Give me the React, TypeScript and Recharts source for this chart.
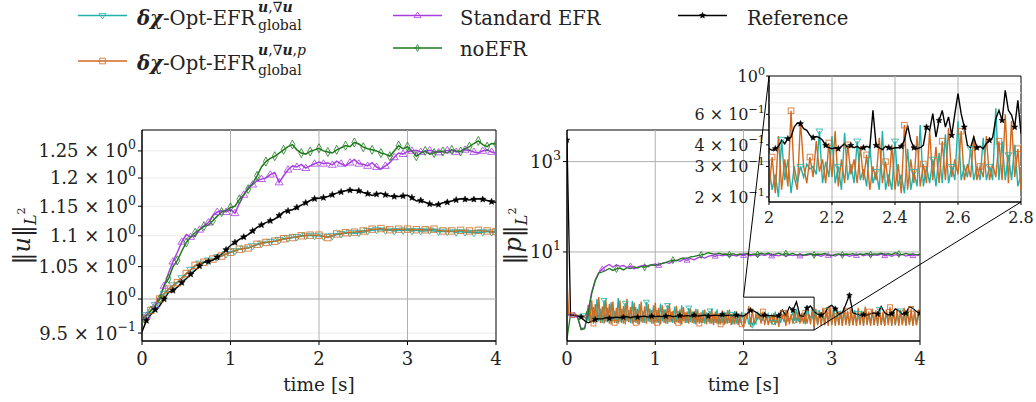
import { CartesianGrid, Line, LineChart, ReferenceArea, ReferenceLine, XAxis, YAxis } from 'recharts';

const FONT = '"DejaVu Serif", serif';

// colours per method
const C_CYAN = '#20b2aa';
const C_ORANGE = '#d2691e';
const C_PURPLE = '#a63ee0';
const C_GREEN = '#1d7a1d';
const C_REF = '#000000';

// ---------- left panel: ||u||_L2, sampled every 0.05 s ----------
const uCyan = [
  0.970, 0.976, 0.983, 0.991, 1.000, 1.008, 1.015, 1.021, 1.026, 1.032,
  1.039, 1.045, 1.051, 1.055, 1.057, 1.060, 1.062, 1.065, 1.067, 1.070,
  1.073, 1.075, 1.078, 1.079, 1.080, 1.083, 1.085, 1.087, 1.089, 1.090,
  1.091, 1.093, 1.094, 1.096, 1.097, 1.098, 1.099, 1.100, 1.101, 1.100,
  1.100, 1.099, 1.098, 1.100, 1.102, 1.103, 1.104, 1.105, 1.104, 1.105,
  1.106, 1.108, 1.109, 1.110, 1.110, 1.109, 1.109, 1.108, 1.109, 1.109,
  1.109, 1.108, 1.109, 1.108, 1.108, 1.109, 1.108, 1.107, 1.107, 1.107,
  1.107, 1.106, 1.107, 1.106, 1.106, 1.105, 1.106, 1.106, 1.107, 1.106,
  1.106,
];
const uOrange = [
  0.970, 0.976, 0.983, 0.991, 1.000, 1.008, 1.015, 1.020, 1.025, 1.032,
  1.039, 1.045, 1.052, 1.055, 1.057, 1.060, 1.062, 1.065, 1.067, 1.070,
  1.073, 1.076, 1.078, 1.079, 1.080, 1.083, 1.086, 1.088, 1.089, 1.090,
  1.091, 1.093, 1.095, 1.096, 1.097, 1.098, 1.100, 1.101, 1.101, 1.101,
  1.101, 1.099, 1.097, 1.100, 1.103, 1.104, 1.105, 1.106, 1.106, 1.107,
  1.108, 1.109, 1.111, 1.111, 1.112, 1.111, 1.110, 1.110, 1.111, 1.111,
  1.111, 1.110, 1.110, 1.110, 1.110, 1.111, 1.111, 1.109, 1.108, 1.108,
  1.108, 1.108, 1.109, 1.108, 1.108, 1.108, 1.109, 1.108, 1.108, 1.107,
  1.107,
];
const uPurple = [
  0.970, 0.975, 0.982, 0.990, 1.002, 1.020, 1.040, 1.058, 1.073, 1.090,
  1.102, 1.098, 1.100, 1.110, 1.116, 1.122, 1.134, 1.140, 1.142, 1.140,
  1.145, 1.138, 1.155, 1.170, 1.183, 1.188, 1.195, 1.198, 1.200, 1.206,
  1.210, 1.192, 1.204, 1.215, 1.222, 1.220, 1.225, 1.218, 1.222, 1.226,
  1.229, 1.226, 1.228, 1.224, 1.231, 1.226, 1.222, 1.228, 1.234, 1.226,
  1.225, 1.222, 1.228, 1.220, 1.216, 1.222, 1.228, 1.238, 1.246, 1.244,
  1.249, 1.250, 1.251, 1.248, 1.249, 1.251, 1.249, 1.247, 1.249, 1.251,
  1.251, 1.248, 1.249, 1.252, 1.251, 1.248, 1.246, 1.250, 1.252, 1.248,
  1.246,
];
const uGreen = [
  0.970, 0.976, 0.983, 0.990, 1.000, 1.021, 1.031, 1.050, 1.060, 1.075,
  1.089, 1.098, 1.105, 1.110, 1.116, 1.118, 1.125, 1.133, 1.140, 1.143,
  1.148, 1.150, 1.162, 1.170, 1.180, 1.190, 1.204, 1.220, 1.230, 1.236,
  1.240, 1.246, 1.252, 1.258, 1.262, 1.252, 1.246, 1.244, 1.249, 1.252,
  1.255, 1.250, 1.248, 1.246, 1.252, 1.256, 1.260, 1.258, 1.266, 1.263,
  1.257, 1.254, 1.252, 1.250, 1.246, 1.244, 1.240, 1.250, 1.260, 1.254,
  1.258, 1.250, 1.240, 1.246, 1.250, 1.244, 1.246, 1.250, 1.249, 1.246,
  1.252, 1.250, 1.249, 1.254, 1.258, 1.264, 1.269, 1.262, 1.258, 1.264,
  1.263,
];
const uRef = [
  0.952, 0.968, 0.977, 0.984, 0.990, 1.000, 1.010, 1.013, 1.018, 1.025,
  1.031, 1.038, 1.044, 1.051, 1.057, 1.058, 1.060, 1.065, 1.070, 1.077,
  1.084, 1.089, 1.094, 1.098, 1.102, 1.108, 1.114, 1.118, 1.122, 1.125,
  1.128, 1.134, 1.140, 1.142, 1.144, 1.148, 1.152, 1.156, 1.160, 1.163,
  1.164, 1.165, 1.167, 1.170, 1.173, 1.175, 1.177, 1.178, 1.178, 1.177,
  1.174, 1.172, 1.169, 1.171, 1.173, 1.170, 1.168, 1.167, 1.167, 1.168,
  1.169, 1.165, 1.159, 1.160, 1.157, 1.154, 1.152, 1.153, 1.156, 1.157,
  1.159, 1.161, 1.163, 1.162, 1.161, 1.162, 1.163, 1.162, 1.160, 1.158,
  1.157,
];

// ---------- right panel: ||p||_L2 ----------
// the two optimised runs, every 0.02 s
const pCyan = [
  0.42, 0.40, 0.41, 0.39, 0.40, 0.42, 0.38, 0.40, 0.37, 0.39,
  0.36, 0.45, 0.30, 0.72, 0.28, 0.60, 0.27, 0.92, 0.29, 0.55,
  0.27, 0.85, 0.28, 0.58, 0.26, 0.78, 0.29, 0.50, 0.27, 0.95,
  0.28, 0.55, 0.26, 0.74, 0.29, 0.52, 0.27, 0.82, 0.28, 0.60,
  0.26, 0.70, 0.28, 0.50, 0.27, 0.78, 0.29, 0.56, 0.26, 0.66,
  0.28, 0.52, 0.27, 0.72, 0.29, 0.54, 0.26, 0.66, 0.28, 0.48,
  0.27, 0.62, 0.28, 0.50, 0.26, 0.66, 0.29, 0.46, 0.27, 0.58,
  0.28, 0.48, 0.26, 0.55, 0.28, 0.44, 0.27, 0.52, 0.26, 0.46,
  0.28, 0.50, 0.26, 0.43, 0.27, 0.54, 0.25, 0.45, 0.27, 0.48,
  0.26, 0.52, 0.27, 0.42, 0.25, 0.49, 0.26, 0.44, 0.27, 0.47,
  0.30, 0.27, 0.43, 0.25, 0.33, 0.24, 0.30, 0.26, 0.48, 0.32,
  0.45, 0.30, 0.47, 0.31, 0.42, 0.29, 0.40, 0.28, 0.48, 0.27,
  0.42, 0.27, 0.38, 0.28, 0.52, 0.30, 0.33, 0.36, 0.46, 0.30,
  0.55, 0.30, 0.38, 0.30, 0.44, 0.25, 0.65, 0.42, 0.35, 0.40,
  0.27, 0.45, 0.25, 0.52, 0.26, 0.43, 0.24, 0.60, 0.26, 0.48,
  0.25, 0.55, 0.26, 0.44, 0.24, 0.50, 0.25, 0.58, 0.26, 0.42,
  0.25, 0.47, 0.24, 0.52, 0.26, 0.44, 0.25, 0.49, 0.24, 0.56,
  0.26, 0.43, 0.25, 0.50, 0.24, 0.46, 0.26, 0.54, 0.25, 0.42,
  0.24, 0.48, 0.26, 0.45, 0.25, 0.52, 0.24, 0.44, 0.26, 0.50,
  0.25, 0.46, 0.24, 0.53, 0.26, 0.43, 0.25, 0.48, 0.24, 0.45,
  0.26,
];
const pOrange = [
  2.5, 0.40, 0.41, 0.40, 0.39, 0.41, 0.39, 0.38, 0.40, 0.38,
  0.37, 0.32, 0.68, 0.27, 0.85, 0.26, 0.70, 0.28, 1.00, 0.27,
  0.62, 0.26, 0.90, 0.28, 0.70, 0.25, 0.80, 0.27, 0.58, 0.26,
  0.85, 0.27, 0.64, 0.25, 0.92, 0.28, 0.60, 0.26, 0.76, 0.27,
  0.55, 0.25, 0.80, 0.27, 0.62, 0.26, 0.70, 0.28, 0.52, 0.26,
  0.76, 0.27, 0.58, 0.25, 0.66, 0.27, 0.54, 0.26, 0.70, 0.28,
  0.50, 0.26, 0.64, 0.27, 0.54, 0.25, 0.60, 0.27, 0.48, 0.26,
  0.56, 0.27, 0.50, 0.25, 0.54, 0.26, 0.46, 0.27, 0.53, 0.25,
  0.45, 0.26, 0.56, 0.24, 0.48, 0.26, 0.43, 0.25, 0.51, 0.24,
  0.46, 0.26, 0.53, 0.24, 0.44, 0.25, 0.49, 0.24, 0.43, 0.25,
  0.22, 0.45, 0.33, 0.63, 0.22, 0.55, 0.24, 0.42, 0.33, 0.41,
  0.26, 0.48, 0.24, 0.40, 0.24, 0.39, 0.25, 0.44, 0.24, 0.40,
  0.22, 0.52, 0.33, 0.45, 0.23, 0.48, 0.25, 0.42, 0.26, 0.50,
  0.27, 0.48, 0.26, 0.45, 0.26, 0.45, 0.26, 0.42, 0.25, 0.60,
  0.22, 0.55, 0.24, 0.47, 0.23, 0.58, 0.24, 0.50, 0.23, 0.62,
  0.24, 0.52, 0.23, 0.56, 0.24, 0.48, 0.23, 0.60, 0.24, 0.50,
  0.23, 0.55, 0.24, 0.46, 0.23, 0.58, 0.24, 0.50, 0.23, 0.62,
  0.24, 0.48, 0.23, 0.55, 0.24, 0.51, 0.23, 0.57, 0.24, 0.47,
  0.23, 0.54, 0.24, 0.60, 0.23, 0.49, 0.24, 0.56, 0.23, 0.52,
  0.24, 0.58, 0.23, 0.50, 0.24, 0.55, 0.23, 0.48, 0.24, 0.53,
  0.25,
];
// standard EFR, noEFR and reference, every 0.04 s
const pPurple = [
  0.40, 0.42, 0.40, 0.36, 0.20, 0.21, 0.50, 1.3, 2.4, 3.5,
  4.2, 4.8, 5.3, 4.6, 5.2, 4.8, 5.0, 4.5, 4.9, 4.2,
  4.6, 4.9, 5.1, 4.7, 5.2, 5.4, 5.0, 5.6, 5.9, 5.6,
  6.2, 6.6, 6.2, 6.9, 6.5, 7.2, 6.7, 7.4, 7.9, 7.3,
  8.0, 8.4, 8.0, 8.6, 8.2, 8.6, 8.0, 8.5, 8.1, 8.7,
  8.3, 8.8, 8.2, 8.6, 8.0, 8.7, 8.3, 8.9, 8.1, 8.5,
  8.2, 8.8, 8.0, 8.6, 8.3, 8.7, 8.1, 8.6, 8.4, 8.9,
  8.2, 8.5, 8.0, 8.7, 8.3, 8.6, 8.1, 8.8, 8.2, 8.6,
  8.0, 8.5, 8.3, 8.9, 8.2, 8.7, 8.1, 8.6, 8.4, 9.0,
  8.2, 8.6, 8.0, 8.7, 8.3, 8.8, 8.1, 8.5, 8.2, 8.7,
  8.2,
];
const pGreen = [
  0.12, 0.42, 0.41, 0.36, 0.19, 0.20, 0.45, 1.2, 2.3, 3.4,
  3.6, 3.9, 4.3, 3.9, 4.2, 4.4, 4.0, 4.5, 4.3, 4.7,
  4.4, 4.8, 4.6, 5.0, 5.2, 5.0, 5.4, 5.6, 5.9, 6.3,
  6.6, 6.4, 7.0, 7.4, 7.2, 7.8, 8.0, 8.3, 8.6, 9.0,
  9.6, 9.2, 8.8, 9.4, 8.9, 9.0, 8.7, 9.2, 8.6, 9.0,
  8.8, 9.3, 8.7, 9.1, 8.8, 9.4, 8.9, 9.5, 8.6, 9.0,
  9.4, 8.7, 9.2, 8.8, 9.3, 8.5, 9.0, 8.4, 8.9, 9.2,
  8.6, 9.0, 8.8, 9.3, 8.7, 8.2, 8.8, 9.1, 8.6, 9.0,
  8.8, 9.2, 8.6, 9.0, 8.8, 9.3, 8.7, 9.1, 8.9, 9.4,
  8.8, 9.2, 8.7, 9.6, 9.0, 8.7, 9.3, 8.8, 9.1, 8.6,
  8.9,
];
const pRef = [
  3000, 0.40, 0.39, 0.38, 0.36, 0.30, 0.27, 0.29, 0.32, 0.33,
  0.33, 0.35, 0.34, 0.35, 0.36, 0.35, 0.36, 0.37, 0.35, 0.37,
  0.36, 0.37, 0.38, 0.36, 0.38, 0.37, 0.38, 0.37, 0.38, 0.39,
  0.37, 0.38, 0.39, 0.38, 0.39, 0.38, 0.40, 0.38, 0.39, 0.40,
  0.38, 0.39, 0.40, 0.39, 0.41, 0.39, 0.40, 0.39, 0.40, 0.39,
  0.38, 0.43, 0.51, 0.49, 0.44, 0.38, 0.40, 0.39, 0.39, 0.38,
  0.39, 0.52, 0.39, 0.61, 0.51, 0.79, 0.39, 0.38, 0.57, 0.64,
  0.48, 0.42, 0.40, 0.44, 0.60, 0.66, 0.55, 0.42, 0.45, 0.70,
  1.10, 0.45, 0.42, 0.40, 0.41, 0.40, 0.43, 0.45, 0.42, 0.62,
  0.45, 0.40, 0.43, 0.55, 0.50, 0.42, 0.44, 0.62, 0.56, 0.48,
  0.44,
];

// ---------- inset: 2.0 .. 2.8 s, every 0.01 s ----------
const zCyan = [
  0.30, 0.22, 0.27, 0.20, 0.43, 0.25, 0.33, 0.21, 0.30, 0.24,
  0.30, 0.26, 0.31, 0.29, 0.30, 0.27, 0.48, 0.24, 0.32, 0.26,
  0.45, 0.24, 0.30, 0.22, 0.47, 0.25, 0.31, 0.24, 0.42, 0.25,
  0.29, 0.23, 0.40, 0.24, 0.28, 0.22, 0.48, 0.22, 0.27, 0.22,
  0.42, 0.23, 0.27, 0.21, 0.38, 0.22, 0.28, 0.23, 0.52, 0.23,
  0.30, 0.24, 0.33, 0.23, 0.36, 0.24, 0.46, 0.24, 0.30, 0.25,
  0.55, 0.25, 0.30, 0.26, 0.38, 0.25, 0.30, 0.25, 0.44, 0.25,
  0.30, 0.25, 0.65, 0.25, 0.42, 0.25, 0.35, 0.25, 0.40, 0.23,
  0.27,
];
const zOrange = [
  0.22, 0.34, 0.21, 0.45, 0.22, 0.33, 0.23, 0.63, 0.26, 0.22,
  0.55, 0.30, 0.24, 0.34, 0.26, 0.42, 0.28, 0.33, 0.24, 0.41,
  0.26, 0.48, 0.23, 0.33, 0.24, 0.40, 0.27, 0.33, 0.24, 0.39,
  0.25, 0.35, 0.22, 0.30, 0.25, 0.44, 0.24, 0.32, 0.23, 0.40,
  0.22, 0.31, 0.21, 0.52, 0.22, 0.33, 0.24, 0.45, 0.23, 0.31,
  0.24, 0.48, 0.25, 0.39, 0.24, 0.42, 0.25, 0.50, 0.26, 0.33,
  0.27, 0.48, 0.25, 0.31, 0.26, 0.45, 0.25, 0.30, 0.26, 0.45,
  0.25, 0.31, 0.26, 0.42, 0.25, 0.60, 0.24, 0.55, 0.26, 0.38,
  0.22,
];
const zRef = [
  0.380, 0.372, 0.380, 0.392, 0.425, 0.406, 0.434, 0.444, 0.507, 0.535,
  0.530, 0.496, 0.485, 0.454, 0.440, 0.447, 0.440, 0.425, 0.397, 0.385,
  0.380, 0.385, 0.380, 0.392, 0.406, 0.385, 0.397, 0.385, 0.392, 0.380,
  0.385, 0.392, 0.385, 0.633, 0.397, 0.385, 0.375, 0.392, 0.385, 0.380,
  0.385, 0.385, 0.392, 0.425, 0.519, 0.425, 0.385, 0.380, 0.385, 0.397,
  0.507, 0.485, 0.606, 0.444, 0.554, 0.633, 0.507, 0.580, 0.454, 0.606,
  0.791, 0.606, 0.507, 0.397, 0.385, 0.444, 0.385, 0.392, 0.380, 0.406,
  0.425, 0.440, 0.567, 0.633, 0.554, 0.826, 0.633, 0.594, 0.507, 0.723,
  0.464,
];

// axes
const T_TICKS = [0, 1, 2, 3, 4];
const U_TICKS = [0.95, 1, 1.05, 1.1, 1.15, 1.2, 1.25];
const U_DOMAIN: [number, number] = [0.9387, 1.29];
const P_TICKS = [10, 1000];
const P_DOMAIN: [number, number] = [0.107, 5000];
const Z_X_TICKS = [2, 2.2, 2.4, 2.6, 2.8];
const Z_Y_TICKS = [0.2, 0.3, 0.4, 0.6, 1];
const Z_GRID = [0.2, 0.3, 0.4, 0.5, 0.6, 0.7, 0.8, 0.9];
const Z_DOMAIN: [number, number] = [0.187, 1];

const uRows = uRef.map((_, i) => ({
  t: i * 0.05, cyan: uCyan[i], orange: uOrange[i], purple: uPurple[i], green: uGreen[i], ref: uRef[i],
}));
const pFine = pCyan.map((_, i) => ({ t: i * 0.02, cyan: pCyan[i], orange: pOrange[i] }));
const pCoarse = pRef.map((_, i) => ({ t: i * 0.04, purple: pPurple[i], green: pGreen[i], ref: pRef[i] }));
const zRows = zRef.map((_, i) => ({ t: 2 + i * 0.01, cyan: zCyan[i], orange: zOrange[i], ref: zRef[i] }));

// plot rectangles (page pixels), charts are placed so their plot areas land here
const RP = { l: 567, r: 920, t: 130, b: 341 };
const IN = { l: 769, r: 1021, t: 76, b: 202 };

type Shape = 'tri-down' | 'tri-up' | 'square' | 'diamond' | 'star';

function marker(shape: Shape, color: string, x: number, y: number, s: number) {
  const common = { fill: 'none', stroke: color, strokeWidth: 1, strokeOpacity: 0.8 };
  if (shape === 'tri-down')
    return <polygon points={`${x - s},${y - s * 0.6} ${x + s},${y - s * 0.6} ${x},${y + s}`} {...common} />;
  if (shape === 'tri-up')
    return <polygon points={`${x - s},${y + s * 0.6} ${x + s},${y + s * 0.6} ${x},${y - s}`} {...common} />;
  if (shape === 'square')
    return <rect x={x - s * 0.8} y={y - s * 0.8} width={s * 1.6} height={s * 1.6} {...common} />;
  if (shape === 'diamond')
    return <polygon points={`${x},${y - s} ${x + s * 0.55},${y} ${x},${y + s} ${x - s * 0.55},${y}`} {...common} />;
  const pts: string[] = [];
  for (let k = 0; k < 10; k++) {
    const r = k % 2 === 0 ? s : s * 0.45;
    const a = -Math.PI / 2 + (k * Math.PI) / 5;
    pts.push(`${x + r * Math.cos(a)},${y + r * Math.sin(a)}`);
  }
  return <polygon points={pts.join(' ')} fill={color} stroke={color} strokeWidth={0.5} />;
}

function makeDot(shape: Shape, color: string, every: number, offset: number, size: number) {
  return (p: any) => {
    const { cx, cy, index } = p;
    if (cx == null || cy == null || index % every !== offset) return <g key={`e${index}`} />;
    return <g key={`m${index}`}>{marker(shape, color, cx, cy, size)}</g>;
  };
}

function LogTick(p: any, fs: number) {
  const v = p.payload.value as number;
  const e = Math.floor(Math.log10(v) + 1e-9);
  const m = +(v / 10 ** e).toPrecision(3);
  const exp = e < 0 ? `\u2212${-e}` : String(e);
  return (
    <text x={p.x} y={p.y + fs * 0.36} textAnchor="end" fontFamily={FONT} fontSize={fs} fill="#222">
      {m === 1 ? '10' : `${m} \u00d7 10`}
      <tspan dy={-fs * 0.45} fontSize={fs * 0.7}>{exp}</tspan>
    </text>
  );
}

function TimeTick(p: any, fs: number) {
  return (
    <text x={p.x} y={p.y + fs * 0.98} textAnchor="middle" fontFamily={FONT} fontSize={fs} fill="#222">
      {p.payload.value}
    </text>
  );
}

const GRID_MAJOR = '#b0b0b0';
const GRID_MINOR = '#ebebeb';

function LeftPanel() {
  return (
    <div style={{ position: 'absolute', left: 0, top: 120 }}>
      <LineChart width={520} height={282} data={uRows} margin={{ top: 10, right: 24, left: 0, bottom: 0 }}>
        <CartesianGrid vertical={false} stroke={GRID_MINOR} />
        <XAxis type="number" dataKey="t" domain={[0, 4]} ticks={T_TICKS} interval={0} allowDataOverflow height={61}
          tickSize={4} tickMargin={2} axisLine={{ stroke: '#000' }} tickLine={{ stroke: '#000' }}
          tick={(p: any) => TimeTick(p, 18)} />
        <YAxis type="number" scale="log" domain={U_DOMAIN} ticks={U_TICKS} interval={0} allowDataOverflow width={142}
          tickSize={4} tickMargin={2} axisLine={{ stroke: '#000' }} tickLine={{ stroke: '#000' }}
          tick={(p: any) => LogTick(p, 18)} />
        {[1, 2, 3].map((x) => <ReferenceLine key={`vx${x}`} x={x} stroke={GRID_MAJOR} />)}
        <ReferenceLine y={1} stroke={GRID_MAJOR} />
        <Line dataKey="cyan" stroke={C_CYAN} strokeWidth={1.5} isAnimationActive={false} activeDot={false}
          dot={makeDot('tri-down', C_CYAN, 2, 1, 4)} />
        <Line dataKey="orange" stroke={C_ORANGE} strokeWidth={1.5} isAnimationActive={false} activeDot={false}
          dot={makeDot('square', C_ORANGE, 2, 0, 4)} />
        <Line dataKey="purple" stroke={C_PURPLE} strokeWidth={1.5} isAnimationActive={false} activeDot={false}
          dot={makeDot('tri-up', C_PURPLE, 2, 1, 4)} />
        <Line dataKey="green" stroke={C_GREEN} strokeWidth={1.5} isAnimationActive={false} activeDot={false}
          dot={makeDot('diamond', C_GREEN, 2, 0, 4.5)} />
        <Line dataKey="ref" stroke={C_REF} strokeWidth={1.5} isAnimationActive={false} activeDot={false}
          dot={makeDot('star', C_REF, 2, 1, 3.4)} />
        <ReferenceArea x1={0} x2={4} y1={U_DOMAIN[0]} y2={U_DOMAIN[1]} fill="none" stroke="#000" ifOverflow="visible" />
      </LineChart>
    </div>
  );
}

function RightPanel() {
  return (
    <div style={{ position: 'absolute', left: 520, top: 120 }}>
      <LineChart width={516} height={282} margin={{ top: 10, right: 116, left: 0, bottom: 0 }}>
        <XAxis type="number" dataKey="t" domain={[0, 4]} ticks={T_TICKS} interval={0} allowDataOverflow height={61}
          tickSize={4} tickMargin={2} axisLine={{ stroke: '#000' }} tickLine={{ stroke: '#000' }}
          tick={(p: any) => TimeTick(p, 18)} />
        <YAxis type="number" scale="log" domain={P_DOMAIN} ticks={P_TICKS} interval={0} allowDataOverflow width={47}
          tickSize={4} tickMargin={2} axisLine={{ stroke: '#000' }} tickLine={{ stroke: '#000' }}
          tick={(p: any) => LogTick(p, 18)} />
        {[1, 2, 3].map((x) => <ReferenceLine key={`vx${x}`} x={x} stroke={GRID_MAJOR} />)}
        {P_TICKS.map((y) => <ReferenceLine key={`hy${y}`} y={y} stroke={GRID_MAJOR} />)}
        <Line data={pFine} dataKey="cyan" stroke={C_CYAN} strokeWidth={1.3} isAnimationActive={false} activeDot={false}
          dot={makeDot('tri-down', C_CYAN, 12, 9, 3)} />
        <Line data={pFine} dataKey="orange" stroke={C_ORANGE} strokeWidth={1.3} isAnimationActive={false} activeDot={false}
          dot={makeDot('square', C_ORANGE, 12, 3, 3)} />
        <Line data={pCoarse} dataKey="purple" stroke={C_PURPLE} strokeWidth={1.3} isAnimationActive={false} activeDot={false}
          dot={makeDot('tri-up', C_PURPLE, 8, 2, 3)} />
        <Line data={pCoarse} dataKey="green" stroke={C_GREEN} strokeWidth={1.3} isAnimationActive={false} activeDot={false}
          dot={makeDot('diamond', C_GREEN, 8, 6, 3.5)} />
        <Line data={pCoarse} dataKey="ref" stroke={C_REF} strokeWidth={1.3} isAnimationActive={false} activeDot={false}
          dot={makeDot('star', C_REF, 4, 0, 3)} />
        <ReferenceArea x1={2} x2={2.8} y1={Z_DOMAIN[0]} y2={Z_DOMAIN[1]} fill="none" stroke="#000" ifOverflow="visible" />
        <ReferenceArea x1={0} x2={4} y1={P_DOMAIN[0]} y2={P_DOMAIN[1]} fill="none" stroke="#000" ifOverflow="visible" />
      </LineChart>
    </div>
  );
}

function Inset() {
  return (
    <>
      <div style={{ position: 'absolute', left: IN.l, top: IN.t, width: IN.r - IN.l, height: IN.b - IN.t, background: '#fff' }} />
      <div style={{ position: 'absolute', left: 679, top: 60 }}>
        <LineChart width={357} height={170} data={zRows} margin={{ top: 16, right: 15, left: 0, bottom: 0 }}>
          <XAxis type="number" dataKey="t" domain={[2, 2.8]} ticks={Z_X_TICKS} interval={0} allowDataOverflow height={28}
            tickSize={3} tickMargin={2} axisLine={{ stroke: '#000' }} tickLine={{ stroke: '#000' }}
            tick={(p: any) => TimeTick(p, 16)} />
          <YAxis type="number" scale="log" domain={Z_DOMAIN} ticks={Z_Y_TICKS} interval={0} allowDataOverflow width={90}
            tickSize={3} tickMargin={1} axisLine={{ stroke: '#000' }} tickLine={{ stroke: '#000' }}
            tick={(p: any) => LogTick(p, 16)} />
          {Z_GRID.map((y) => <ReferenceLine key={`zg${y}`} y={y} stroke={GRID_MINOR} />)}
          {[2.2, 2.4, 2.6].map((x) => <ReferenceLine key={`zx${x}`} x={x} stroke={GRID_MAJOR} />)}
          <Line dataKey="cyan" stroke={C_CYAN} strokeWidth={1.4} isAnimationActive={false} activeDot={false}
            dot={makeDot('tri-down', C_CYAN, 6, 4, 3.5)} />
          <Line dataKey="orange" stroke={C_ORANGE} strokeWidth={1.4} isAnimationActive={false} activeDot={false}
            dot={makeDot('square', C_ORANGE, 6, 1, 3.5)} />
          <Line dataKey="ref" stroke={C_REF} strokeWidth={1.4} isAnimationActive={false} activeDot={false}
            dot={makeDot('star', C_REF, 4, 2, 3.2)} />
          <ReferenceArea x1={2} x2={2.8} y1={Z_DOMAIN[0]} y2={Z_DOMAIN[1]} fill="none" stroke="#000" ifOverflow="visible" />
        </LineChart>
      </div>
    </>
  );
}

// map a data point of the right panel to page pixels (same domain as the chart)
const xR = (t: number) => RP.l + (t / 4) * (RP.r - RP.l);
const yR = (v: number) => {
  const l0 = Math.log10(P_DOMAIN[0]);
  const l1 = Math.log10(P_DOMAIN[1]);
  return RP.b - ((Math.log10(v) - l0) / (l1 - l0)) * (RP.b - RP.t);
};

function Overlay() {
  const bi = { fontWeight: 'bold' as const, fontStyle: 'italic' as const };
  const legendLine = (x: number, y: number, shape: Shape, color: string) => (
    <g>
      <line x1={x} x2={x + 49} y1={y} y2={y} stroke={color} strokeWidth={1.5} />
      {marker(shape, color, x + 24.5, y, shape === 'star' ? 3.2 : 3.5)}
    </g>
  );
  return (
    <svg width={1036} height={402} style={{ position: 'absolute', left: 0, top: 0, pointerEvents: 'none' }}
      fontFamily={FONT} fill="#222">
      {/* zoom connectors */}
      <line x1={xR(2)} y1={yR(Z_DOMAIN[1])} x2={IN.l} y2={IN.t} stroke="#000" strokeWidth={1} />
      <line x1={xR(2.8)} y1={yR(Z_DOMAIN[0])} x2={IN.r} y2={IN.b} stroke="#000" strokeWidth={1} />

      {/* legend */}
      {legendLine(78, 15.5, 'tri-down', C_CYAN)}
      <text x={137} y={25} fontSize={19.6}><tspan {...bi}>δχ</tspan>-Opt-EFR</text>
      <text x={258} y={12} fontSize={14}><tspan {...bi}>u</tspan>,∇<tspan {...bi}>u</tspan></text>
      <text x={258} y={30} fontSize={14}>global</text>

      {legendLine(78, 61, 'square', C_ORANGE)}
      <text x={137} y={70} fontSize={19.6}><tspan {...bi}>δχ</tspan>-Opt-EFR</text>
      <text x={258} y={55} fontSize={14}><tspan {...bi}>u</tspan>,∇<tspan {...bi}>u</tspan>,<tspan fontStyle="italic">p</tspan></text>
      <text x={258} y={75} fontSize={14}>global</text>

      {legendLine(393, 15.5, 'tri-up', C_PURPLE)}
      <text x={460} y={25} fontSize={19.6}>Standard EFR</text>
      {legendLine(393, 48, 'diamond', C_GREEN)}
      <text x={460} y={56} fontSize={19.6}>noEFR</text>
      {legendLine(678, 15.5, 'star', C_REF)}
      <text x={747} y={25} fontSize={19.6}>Reference</text>

      {/* axis titles */}
      <text x={319} y={391} fontSize={18.5} textAnchor="middle">time [s]</text>
      <text x={743.5} y={391} fontSize={18.5} textAnchor="middle">time [s]</text>
      <text transform="translate(30,236) rotate(-90)" fontSize={24} textAnchor="middle">
        ‖<tspan fontStyle="italic">u</tspan>‖<tspan fontStyle="italic" fontSize={16} dy={6}>L</tspan>
        <tspan fontSize={11} dy={-11}>2</tspan>
      </text>
      <text transform="translate(521,236) rotate(-90)" fontSize={24} textAnchor="middle">
        ‖<tspan fontStyle="italic">p</tspan>‖<tspan fontStyle="italic" fontSize={16} dy={6}>L</tspan>
        <tspan fontSize={11} dy={-11}>2</tspan>
      </text>
    </svg>
  );
}

export default function App() {
  return (
    <div style={{ position: 'absolute', left: 0, top: 0, width: 1036, height: 402, background: '#fff', fontFamily: FONT }}>
      <LeftPanel />
      <RightPanel />
      <Inset />
      <Overlay />
    </div>
  );
}
